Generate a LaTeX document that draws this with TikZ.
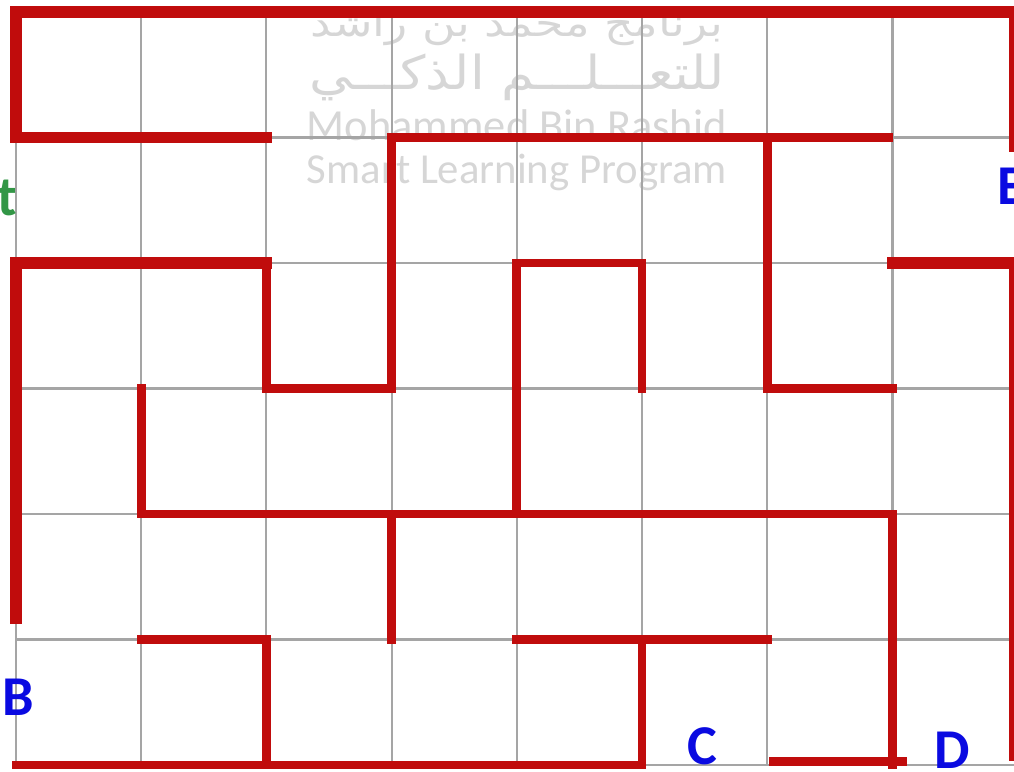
\documentclass[tikz,border=0pt]{standalone}
\usepackage{fontspec}
\setmainfont{Carlito}
\newfontfamily\arabicfont[Script=Arabic]{DejaVu Sans}
\usepackage{graphicx}
\TeXXeTstate=1
\definecolor{mzred}{RGB}{192,12,12}
\definecolor{mzgrid}{RGB}{165,165,165}
\definecolor{mzblue}{RGB}{10,10,225}
\definecolor{mzgreen}{RGB}{50,150,70}
\definecolor{mzmark}{RGB}{214,214,214}

\begin{document}
\begin{tikzpicture}[x=1.252cm,y=1.255cm,
  wall/.style={draw=mzred,line width=2.5pt,line cap=rect},
  outerwall/.style={draw=mzred,line width=3.2pt,line cap=rect},
  gridline/.style={draw=mzgrid,line width=0.6pt},
  letter/.style={font=\fontsize{16}{16}\selectfont\bfseries,text=mzblue,inner sep=0pt},
  watermark/.style={text=mzmark,inner sep=0pt}
]
  \useasboundingbox (-0.128,-0.048) rectangle (7.971,6.096);
  % watermark
  \node[watermark] (wmtop) at (4.0,5.88)
    {\resizebox*{4.13cm}{0.38cm}{\arabicfont\beginR برنامج محمد بن راشد\endR}};
  \node[watermark] (wmmid) at (4.0,5.48)
    {\resizebox*{4.15cm}{0.47cm}{\arabicfont\beginR للتعـــلـــم الذكـــي\endR}};
  \node[watermark,anchor=base] (wmname) at (4.0,4.98)
    {\resizebox{4.2cm}{!}{Mohammed Bin Rashid}};
  \node[watermark,anchor=base] (wmprog) at (4.0,4.637)
    {\resizebox{4.2cm}{!}{Smart Learning Program}};
  % grid
  \foreach \i in {0,...,7} \draw[gridline] (\i,0) -- (\i,6);
  \foreach \j in {0,...,6} \draw[gridline] (0,\j) -- (7.975,\j);
  % outer walls
  \draw[outerwall] (0,6) -- (7.975,6);
  \draw[outerwall] (2,5) -- (0,5) -- (0,6);
  \draw[outerwall] (7.975,6) -- (7.975,4.93);
  \draw[outerwall] (7,4) -- (7.975,4) -- (7.975,0.08);
  \draw[outerwall] (2,4) -- (0,4) -- (0,1.17);
  \draw[wall] (5,1) -- (5,0) -- (0,0);
  \draw[wall] (6.05,0.03) -- (7.08,0.03);
  % inner walls
  \draw[wall] (6.97,5) -- (3,5) -- (3,3) -- (2,3) -- (2,4);
  \draw[wall] (6,5) -- (6,3) -- (7,3);
  \draw[wall] (4,4) -- (4,2);
  \draw[wall] (4.07,4) -- (5,4) -- (5,3);
  \draw[wall] (1,3) -- (1,2) -- (7,2) -- (7,0);
  \draw[wall] (3,2) -- (3,1);
  \draw[wall] (4,1) -- (6,1);
  \draw[wall] (1,1) -- (2,1) -- (2,0);
  % letters
  \node[letter,text=mzgreen] (start) at (-0.07,4.52) {t};
  \node[letter] (ptB) at (0.016,0.54) {B};
  \node[letter] (ptC) at (5.48,0.15) {C};
  \node[letter] (ptD) at (7.48,0.12) {D};
  \node[letter,anchor=west] (ptE) at (7.835,4.61) {E};
\end{tikzpicture}
\end{document}
